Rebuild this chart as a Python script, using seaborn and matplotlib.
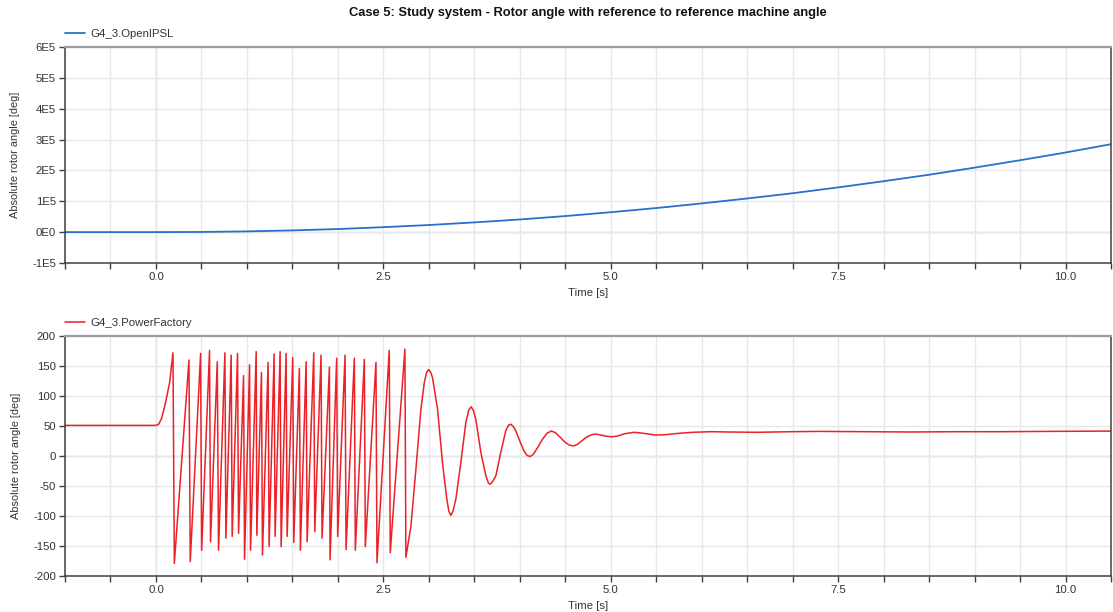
import numpy as np
import pandas as pd
import matplotlib
matplotlib.use("Agg")
import matplotlib.pyplot as plt
from matplotlib.ticker import MultipleLocator, FixedLocator, FixedFormatter
from matplotlib.transforms import offset_copy
import seaborn as sns

# ---------------------------------------------------------------- data
TITLE = "Case 5: Study system - Rotor angle with reference to reference machine angle"
X_LABEL = "Time [s]"
Y_LABEL = "Absolute rotor angle [deg]"
LABEL_OPENIPSL = "G4_3.OpenIPSL"
LABEL_PF = "G4_3.PowerFactory"

# OpenIPSL: unwrapped absolute rotor angle [deg]
openipsl_t = [-1.0, -0.5, 0.0, 0.5, 1.0, 1.5, 2.0, 2.5, 3.0, 3.5, 4.0, 4.5,
              5.0, 5.5, 6.0, 6.5, 7.0, 7.5, 8.0, 8.5, 9.0, 9.5, 10.0, 10.5]
openipsl_v = [51, 51, 51, 500, 2400, 5600, 10000, 16000, 23000, 31500, 41000, 52000,
              64500, 78000, 93000, 109000, 126000, 145000, 165000, 186000, 209000,
              233000, 258000, 285000]

# PowerFactory: pre-fault and first swing
pf_start_t = [-1.0, -0.5, 0.0, 0.03, 0.06, 0.10, 0.15]
pf_start_v = [51, 51, 51, 53, 62, 85, 122]

# PowerFactory: pole slipping (angle wrapped to +/-180 deg)
slip_peak_t = [0.187, 0.363, 0.491, 0.589, 0.674, 0.758, 0.827, 0.897, 0.963, 1.029,
               1.102, 1.160, 1.233, 1.299, 1.365, 1.431, 1.504, 1.577, 1.651, 1.735,
               1.815, 1.907, 1.987, 2.079, 2.181, 2.291, 2.419, 2.565, 2.737]
slip_peak_v = [172, 160, 171, 176, 157, 172, 168, 171, 134, 152,
               174, 139, 156, 170, 174, 171, 164, 146, 157, 172,
               168, 148, 163, 168, 163, 161, 156, 176, 178]
slip_trough_t = [0.202, 0.377, 0.502, 0.600, 0.688, 0.769, 0.838, 0.908, 0.974, 1.040,
                 1.109, 1.171, 1.244, 1.310, 1.376, 1.442, 1.515, 1.588, 1.662, 1.746,
                 1.826, 1.914, 1.998, 2.090, 2.192, 2.302, 2.430, 2.576, 2.748]
slip_trough_v = [-179, -176, -157, -143, -157, -137, -134, -129, -172, -157,
                 -132, -165, -151, -134, -151, -134, -144, -157, -143, -126,
                 -137, -173, -134, -156, -157, -151, -178, -161, -169]

# PowerFactory: resynchronisation and damped swings
pf_tail_t = [2.803, 2.858, 2.913, 2.950, 2.975, 2.997, 3.020, 3.040, 3.096, 3.150,
             3.198, 3.220, 3.242, 3.265, 3.297, 3.352, 3.407, 3.440, 3.465, 3.490,
             3.517, 3.572, 3.627, 3.655, 3.674, 3.700, 3.737, 3.791, 3.846, 3.875,
             3.900, 3.930, 3.956, 4.000, 4.047, 4.080, 4.113, 4.150, 4.200, 4.250,
             4.300, 4.347, 4.390, 4.440, 4.490, 4.540, 4.585, 4.630, 4.680, 4.730,
             4.780, 4.834, 4.890, 4.950, 5.017, 5.080, 5.150, 5.255, 5.350, 5.490,
             5.600, 5.750, 5.900, 6.100, 6.300, 6.600, 7.000, 7.300, 7.800, 8.300,
             8.800, 9.300, 9.800, 10.500]
pf_tail_v = [-117, -22, 78, 122, 139, 144, 140, 131, 78, -11,
             -72, -92, -99, -92, -72, -11, 56, 77, 82, 76,
             61, 6, -33, -45, -47, -43, -33, 6, 42, 51,
             53, 49, 42, 25, 8, 1, -1, 3, 15, 28,
             38, 41.7, 39, 32, 24, 18.5, 16.7, 19, 25, 31,
             35, 36.6, 35, 33, 32, 33.5, 37, 39.5, 38, 35,
             35.5, 37.8, 39.5, 40.5, 40, 39.5, 40.5, 41, 40.5, 40,
             40.5, 40.5, 41, 41.5]

TOP_YTICKS = [-1e5, 0, 1e5, 2e5, 3e5, 4e5, 5e5, 6e5]
TOP_YTICKLABELS = ["-1E5", "0E0", "1E5", "2E5", "3E5", "4E5", "5E5", "6E5"]
BOTTOM_YTICKS = [-200, -150, -100, -50, 0, 50, 100, 150, 200]
XTICKS = [0.0, 2.5, 5.0, 7.5, 10.0]
XTICKLABELS = ["0.0", "2.5", "5.0", "7.5", "10.0"]

# ---------------------------------------------------------------- frames
df_top = pd.DataFrame({"t": openipsl_t, "angle": openipsl_v})

pf_t = list(pf_start_t)
pf_v = list(pf_start_v)
for pt, pv, tt, tv in zip(slip_peak_t, slip_peak_v, slip_trough_t, slip_trough_v):
    pf_t += [pt, tt]
    pf_v += [pv, tv]
pf_t += pf_tail_t
pf_v += pf_tail_v
df_bot = pd.DataFrame({"t": pf_t, "angle": pf_v})

# ---------------------------------------------------------------- style
sns.set_theme(style="white")
plt.rcParams["font.family"] = ["Liberation Sans", "DejaVu Sans"]
plt.rcParams["font.size"] = 8.2
plt.rcParams["axes.unicode_minus"] = False

TEXT = "#333333"
SPINE = "#404040"
GRID = "#e8e8e8"
ZERO = "#cfcfcf"
BLUE = "#2a6fcc"
RED = "#ec2027"
FS = 8.2

fig = plt.figure(figsize=(11.13, 6.12), dpi=100)
ax_top = fig.add_axes([0.0584, 0.5703, 0.9398, 0.3529])
ax_bot = fig.add_axes([0.0584, 0.0588, 0.9398, 0.3922])

sns.lineplot(data=df_top, x="t", y="angle", ax=ax_top, color=BLUE, linewidth=1.3,
             estimator=None, sort=False, label=LABEL_OPENIPSL)
sns.lineplot(data=df_bot, x="t", y="angle", ax=ax_bot, color=RED, linewidth=1.1,
             estimator=None, sort=False, label=LABEL_PF)

for ax, yticks in ((ax_top, TOP_YTICKS), (ax_bot, BOTTOM_YTICKS)):
    ax.set_xlim(-1.0, 10.5)
    ax.set_ylim(yticks[0], yticks[-1])
    ax.xaxis.set_major_locator(FixedLocator(XTICKS))
    ax.xaxis.set_major_formatter(FixedFormatter(XTICKLABELS))
    ax.xaxis.set_minor_locator(MultipleLocator(0.5))
    ax.yaxis.set_major_locator(FixedLocator(yticks))
    ax.grid(True, which="both", axis="x", color=GRID, linewidth=1.0, zorder=0)
    ax.grid(True, which="major", axis="y", color=GRID, linewidth=1.0, zorder=0)
    ax.axvline(0.0, color=ZERO, linewidth=1.0, zorder=0.5)
    ax.axhline(0.0, color=ZERO, linewidth=1.0, zorder=0.5)
    ax.set_axisbelow(True)
    ax.tick_params(axis="both", which="both", direction="out", length=4.5, width=1.0,
                   color=SPINE, labelcolor=TEXT, labelsize=FS, pad=2,
                   bottom=True, left=True)
    for side in ("left", "bottom", "right"):
        ax.spines[side].set_color(SPINE)
        ax.spines[side].set_linewidth(1.1)
    ax.spines["top"].set_color("#9c9c9c")
    ax.spines["top"].set_linewidth(1.6)
    ax.set_xlabel(X_LABEL, fontsize=FS, color=TEXT, labelpad=4)
    ax.set_ylabel(Y_LABEL, fontsize=7.9, color=TEXT, labelpad=9)
    ax.legend(loc="lower left", bbox_to_anchor=(0.0, 1.0),
              bbox_transform=offset_copy(ax.transAxes, fig=fig, x=0, y=8, units="dots"),
              frameon=False, borderaxespad=0, borderpad=0, handlelength=1.75,
              handletextpad=0.45, fontsize=FS, labelcolor=TEXT)

ax_top.yaxis.set_major_formatter(FixedFormatter(TOP_YTICKLABELS))

fig.text(0.0584 + 0.9398 / 2, 0.989, TITLE, ha="center", va="top",
         fontsize=9.3, fontweight="bold", color="#111111")

fig.savefig("out.png", dpi=100, facecolor="white")
